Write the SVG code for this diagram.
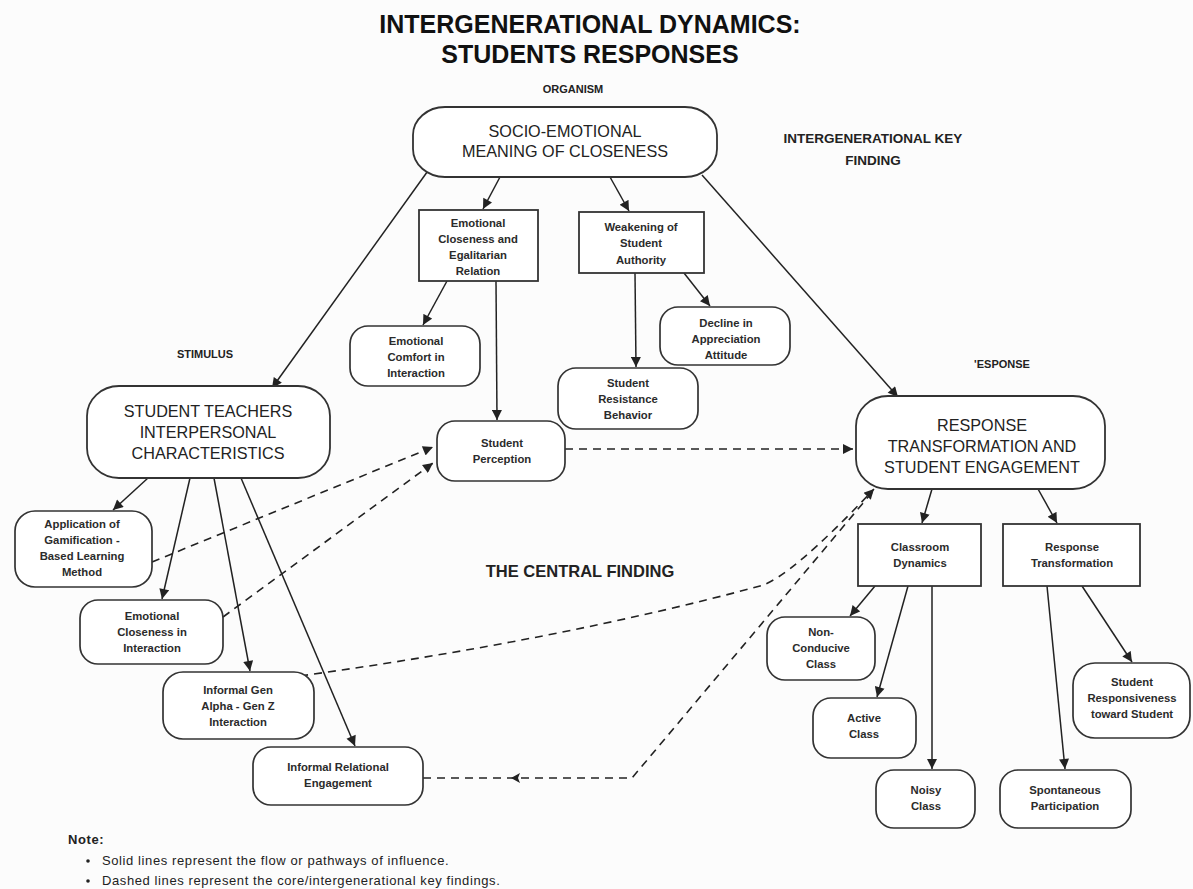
<svg xmlns="http://www.w3.org/2000/svg" width="1193" height="889" viewBox="0 0 1193 889">
<style>
.bg{fill:#fcfcfc}
.big{fill:#fff;stroke:#333;stroke-width:1.8}
.sm{fill:#fff;stroke:#333;stroke-width:1.7}
.bx{fill:#fff;stroke:#333;stroke-width:1.8}
.tb{font-family:"Liberation Sans",Arial,sans-serif;font-size:16.2px;fill:#222;text-anchor:middle}
.ts{font-family:"Liberation Sans",Arial,sans-serif;font-size:11.3px;font-weight:bold;fill:#2b2b2b;text-anchor:middle}
.lab{font-family:"Liberation Sans",Arial,sans-serif;font-weight:bold;fill:#222;text-anchor:middle}
.ttl{font-family:"Liberation Sans",Arial,sans-serif;font-size:25px;font-weight:bold;fill:#111;text-anchor:middle}
.note{font-family:"Liberation Sans",Arial,sans-serif;font-size:13px;letter-spacing:0.6px;fill:#222}
.sol{fill:none;stroke:#222;stroke-width:1.5}
.dsh{fill:none;stroke:#222;stroke-width:1.6;stroke-dasharray:8 6}
</style>
<defs>
<marker id="ah" viewBox="0 0 10 10" refX="10" refY="5" markerWidth="11" markerHeight="10" markerUnits="userSpaceOnUse" orient="auto">
<path d="M0,0 L10,5 L0,10 Z" fill="#222"/>
</marker>
</defs>
<rect class="bg" x="0" y="0" width="1193" height="889"/>

<g id="title">
<text class="ttl" x="590" y="33">INTERGENERATIONAL DYNAMICS:</text>
<text class="ttl" x="590" y="63">STUDENTS RESPONSES</text>
</g>
<g id="labels">
<text class="lab" x="573" y="93" font-size="11">ORGANISM</text>
<text class="lab" x="873" y="143" font-size="13.5">INTERGENERATIONAL KEY</text>
<text class="lab" x="873" y="165" font-size="13.5">FINDING</text>
<text class="lab" x="205" y="358" font-size="11">STIMULUS</text>
<text class="lab" x="1002" y="368" font-size="11">'ESPONSE</text>
<text class="lab" x="580" y="577" font-size="16.5">THE CENTRAL FINDING</text>
</g>

<g id="connectors">
<line class="sol" x1="430" y1="168" x2="272" y2="388" marker-end="url(#ah)"/>
<line class="sol" x1="500" y1="177" x2="483" y2="209" marker-end="url(#ah)"/>
<line class="sol" x1="610" y1="177" x2="629" y2="211" marker-end="url(#ah)"/>
<line class="sol" x1="702" y1="175" x2="898" y2="397" marker-end="url(#ah)"/>
<line class="sol" x1="447" y1="281" x2="423" y2="325" marker-end="url(#ah)"/>
<line class="sol" x1="496" y1="281" x2="497" y2="420" marker-end="url(#ah)"/>
<line class="sol" x1="635" y1="273" x2="636" y2="367" marker-end="url(#ah)"/>
<line class="sol" x1="684" y1="273" x2="710" y2="306" marker-end="url(#ah)"/>
<line class="sol" x1="148" y1="478" x2="113" y2="510" marker-end="url(#ah)"/>
<line class="sol" x1="190" y1="478" x2="162" y2="599" marker-end="url(#ah)"/>
<line class="sol" x1="214" y1="478" x2="250" y2="671" marker-end="url(#ah)"/>
<line class="sol" x1="241" y1="478" x2="355" y2="746" marker-end="url(#ah)"/>
<line class="sol" x1="932" y1="489" x2="922" y2="523" marker-end="url(#ah)"/>
<line class="sol" x1="1038" y1="489" x2="1057" y2="523" marker-end="url(#ah)"/>
<line class="sol" x1="875" y1="586" x2="850" y2="616" marker-end="url(#ah)"/>
<line class="sol" x1="908" y1="586" x2="877" y2="697" marker-end="url(#ah)"/>
<line class="sol" x1="932" y1="586" x2="932" y2="769" marker-end="url(#ah)"/>
<line class="sol" x1="1047" y1="586" x2="1065" y2="769" marker-end="url(#ah)"/>
<line class="sol" x1="1082" y1="586" x2="1132" y2="662" marker-end="url(#ah)"/>

<path class="dsh" d="M152,562 L433,447" marker-end="url(#ah)"/>
<path class="dsh" d="M223,617 L433,463" marker-end="url(#ah)"/>
<path class="dsh" d="M565,449 L853,449" marker-end="url(#ah)"/>
<path class="dsh" d="M300,676 Q560,640 760,586 Q790,578 874,489" marker-end="url(#ah)"/>
<path class="dsh" d="M423,778 L632,778 L874,490"/>
<path d="M511,778 L520,773 L518,778 L520,783 Z" fill="#222"/>
</g>

<g id="n-socio">
<rect class="big" x="413" y="107" width="304" height="70" rx="32" ry="28"/>
<text class="tb" x="565" y="137">SOCIO-EMOTIONAL</text>
<text class="tb" x="565" y="157">MEANING OF CLOSENESS</text>
</g>
<g id="n-ecer">
<rect class="bx" x="419" y="210" width="119" height="71"/>
<text class="ts" x="478" y="227">Emotional</text>
<text class="ts" x="478" y="243">Closeness and</text>
<text class="ts" x="478" y="259">Egalitarian</text>
<text class="ts" x="478" y="275">Relation</text>
</g>
<g id="n-weak">
<rect class="bx" x="579" y="212" width="125" height="61"/>
<text class="ts" x="641" y="231">Weakening of</text>
<text class="ts" x="641" y="247">Student</text>
<text class="ts" x="641" y="264">Authority</text>
</g>
<g id="n-comfort">
<rect class="sm" x="350" y="326" width="130" height="60" rx="18"/>
<text class="ts" x="416" y="345">Emotional</text>
<text class="ts" x="416" y="361">Comfort in</text>
<text class="ts" x="416" y="377">Interaction</text>
</g>
<g id="n-decline">
<rect class="sm" x="660" y="307" width="130" height="58" rx="18"/>
<text class="ts" x="726" y="327">Decline in</text>
<text class="ts" x="726" y="343">Appreciation</text>
<text class="ts" x="726" y="359">Attitude</text>
</g>
<g id="n-resist">
<rect class="sm" x="558" y="368" width="140" height="61" rx="18"/>
<text class="ts" x="628" y="387">Student</text>
<text class="ts" x="628" y="403">Resistance</text>
<text class="ts" x="628" y="419">Behavior</text>
</g>
<g id="n-perception">
<rect class="sm" x="437" y="421" width="128" height="60" rx="18"/>
<text class="ts" x="502" y="447">Student</text>
<text class="ts" x="502" y="463">Perception</text>
</g>
<g id="n-stimulus">
<rect class="big" x="87" y="386" width="243" height="92" rx="32" ry="30"/>
<text class="tb" x="208" y="417">STUDENT TEACHERS</text>
<text class="tb" x="208" y="438">INTERPERSONAL</text>
<text class="tb" x="208" y="459">CHARACTERISTICS</text>
</g>
<g id="n-response">
<rect class="big" x="856" y="396" width="249" height="93" rx="32" ry="30"/>
<text class="tb" x="982" y="431">RESPONSE</text>
<text class="tb" x="982" y="452">TRANSFORMATION AND</text>
<text class="tb" x="982" y="473">STUDENT ENGAGEMENT</text>
</g>
<g id="n-gamification">
<rect class="sm" x="15" y="511" width="137" height="76" rx="20"/>
<text class="ts" x="82" y="528">Application of</text>
<text class="ts" x="82" y="544">Gamification -</text>
<text class="ts" x="82" y="560">Based Learning</text>
<text class="ts" x="82" y="576">Method</text>
</g>
<g id="n-ecinteraction">
<rect class="sm" x="80" y="600" width="143" height="64" rx="18"/>
<text class="ts" x="152" y="620">Emotional</text>
<text class="ts" x="152" y="636">Closeness in</text>
<text class="ts" x="152" y="652">Interaction</text>
</g>
<g id="n-genalpha">
<rect class="sm" x="163" y="672" width="151" height="67" rx="20"/>
<text class="ts" x="238" y="694">Informal Gen</text>
<text class="ts" x="238" y="710">Alpha - Gen Z</text>
<text class="ts" x="238" y="726">Interaction</text>
</g>
<g id="n-relational">
<rect class="sm" x="253" y="747" width="170" height="58" rx="18"/>
<text class="ts" x="338" y="771">Informal Relational</text>
<text class="ts" x="338" y="787">Engagement</text>
</g>
<g id="n-classroom">
<rect class="bx" x="858" y="524" width="123" height="62"/>
<text class="ts" x="920" y="551">Classroom</text>
<text class="ts" x="920" y="567">Dynamics</text>
</g>
<g id="n-resptrans">
<rect class="bx" x="1003" y="524" width="137" height="62"/>
<text class="ts" x="1072" y="551">Response</text>
<text class="ts" x="1072" y="567">Transformation</text>
</g>
<g id="n-nonconducive">
<rect class="sm" x="767" y="617" width="108" height="63" rx="18"/>
<text class="ts" x="821" y="636">Non-</text>
<text class="ts" x="821" y="652">Conducive</text>
<text class="ts" x="821" y="668">Class</text>
</g>
<g id="n-active">
<rect class="sm" x="813" y="698" width="103" height="60" rx="18"/>
<text class="ts" x="864" y="722">Active</text>
<text class="ts" x="864" y="738">Class</text>
</g>
<g id="n-noisy">
<rect class="sm" x="876" y="770" width="99" height="58" rx="18"/>
<text class="ts" x="926" y="794">Noisy</text>
<text class="ts" x="926" y="810">Class</text>
</g>
<g id="n-spontaneous">
<rect class="sm" x="1000" y="770" width="131" height="58" rx="18"/>
<text class="ts" x="1065" y="794">Spontaneous</text>
<text class="ts" x="1065" y="810">Participation</text>
</g>
<g id="n-responsiveness">
<rect class="sm" x="1073" y="663" width="117" height="75" rx="22"/>
<text class="ts" x="1132" y="686">Student</text>
<text class="ts" x="1132" y="702">Responsiveness</text>
<text class="ts" x="1132" y="718">toward Student</text>
</g>

<g id="note">
<text class="note" x="68" y="844" font-weight="bold" letter-spacing="0">Note:</text>
<circle cx="88" cy="861" r="1.8" fill="#222"/>
<text class="note" x="102" y="865">Solid lines represent the flow or pathways of influence.</text>
<circle cx="88" cy="881" r="1.8" fill="#222"/>
<text class="note" x="102" y="885">Dashed lines represent the core/intergenerational key findings.</text>
</g>
</svg>
